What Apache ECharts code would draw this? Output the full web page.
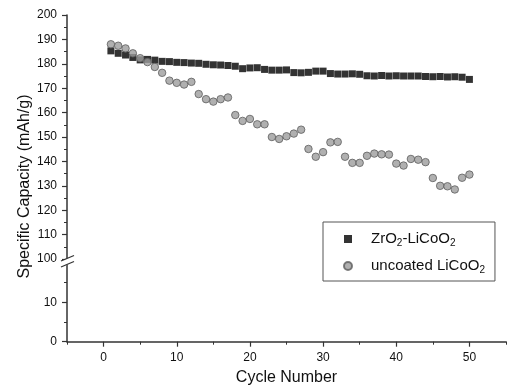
<!DOCTYPE html>
<html><head><meta charset="utf-8">
<script src="https://cdn.jsdelivr.net/npm/echarts@6/dist/echarts.min.js"></script>
<style>html,body{margin:0;padding:0;background:#fff}#c{width:509px;height:391px}</style>
</head><body><div id="c"></div>
<script>
const cycles = [1,2,3,4,5,6,7,8,9,10,11,12,13,14,15,16,17,18,19,20,21,22,23,24,25,26,27,28,29,30,31,32,33,34,35,36,37,38,39,40,41,42,43,44,45,46,47,48,49,50];
const zro2Capacity = [185.3,184.3,183.6,182.6,181.6,181.8,181.5,181.0,180.9,180.6,180.5,180.3,180.2,179.8,179.6,179.5,179.3,179.0,178.0,178.3,178.4,177.7,177.4,177.4,177.5,176.4,176.3,176.5,177.0,177.0,176.0,175.8,175.8,175.9,175.7,175.1,175.0,175.2,175.0,175.1,175.0,175.0,175.0,174.8,174.7,174.8,174.6,174.7,174.5,173.6];
const uncoatedCapacity = [188.0,187.4,186.3,184.3,182.3,180.7,178.7,176.3,173.1,172.2,171.5,172.6,167.6,165.5,164.5,165.5,166.2,159.0,156.6,157.4,155.2,155.2,150.0,149.2,150.3,151.4,153.0,145.1,141.9,143.8,147.8,148.0,141.9,139.4,139.4,142.3,143.2,142.9,142.8,139.1,138.3,141.0,140.7,139.7,133.2,130.0,129.8,128.5,133.3,134.6];
const xTickValues = [0,10,20,30,40,50];
const xMinorTickValues = [-5,5,15,25,35,45,55];
const seriesNames = ['ZrO2-LiCoO2','uncoated LiCoO2'];
const legendRich = {'ZrO2-LiCoO2':'{a|ZrO}{s|2}{a|-LiCoO}{s|2}','uncoated LiCoO2':'{a|uncoated LiCoO}{s|2}'};
const yAxisTitle = 'Specific Capacity (mAh/g)';
const xAxisTitle = 'Cycle Number';

const FONT = 'Liberation Sans, Arial, sans-serif';
const AX = '#333';
const chart = echarts.init(document.getElementById('c'), null, {renderer:'canvas'});
const lineStyle = {color:AX, width:1.5};
const labelStyle = {color:'#111', fontSize:12, fontFamily:FONT};

chart.setOption({
  animation:false,
  backgroundColor:'#fff',
  grid:[
    {left:67, right:3, top:15, height:244},
    {left:67, right:3, top:263, height:78.7}
  ],
  xAxis:[
    {gridIndex:0, type:'value', min:-5, max:55, show:false},
    {gridIndex:1, type:'value', min:-5, max:55, position:'bottom',
     axisLine:{show:true, onZero:false, lineStyle},
     axisTick:{show:true, customValues:xTickValues, length:5, lineStyle:{color:AX,width:1.2}},
     axisLabel:{customValues:xTickValues, margin:10, ...labelStyle},
     splitLine:{show:false},
     name:xAxisTitle, nameLocation:'middle', nameGap:28,
     nameTextStyle:{fontSize:16, color:'#111', fontFamily:FONT}},
    {gridIndex:1, type:'value', min:-5, max:55, position:'bottom',
     axisLine:{show:false, onZero:false},
     axisTick:{show:true, customValues:xMinorTickValues, length:3, lineStyle:{color:AX,width:1}},
     axisLabel:{show:false}, splitLine:{show:false}}
  ],
  yAxis:[
    {gridIndex:0, type:'value', min:100, max:200, interval:10, position:'left',
     axisLine:{show:true, onZero:false, lineStyle},
     axisTick:{show:true, length:5, lineStyle:{color:AX,width:1.2}},
     minorTick:{show:true, splitNumber:2, length:3, lineStyle:{color:AX,width:1}},
     axisLabel:{margin:10, ...labelStyle},
     splitLine:{show:false}},
    {gridIndex:1, type:'value', min:0, max:20, interval:10, position:'left',
     axisLine:{show:true, onZero:false, lineStyle},
     axisTick:{show:true, length:5, lineStyle:{color:AX,width:1.2}},
     minorTick:{show:true, splitNumber:2, length:3, lineStyle:{color:AX,width:1}},
     axisLabel:{margin:10, showMaxLabel:false, ...labelStyle},
     splitLine:{show:false}}
  ],
  legend:{
    orient:'vertical', left:323, top:222,
    padding:[7,10,6,20], itemGap:8, itemWidth:8, itemHeight:8,
    borderColor:'#555', borderWidth:1, backgroundColor:'#fff',
    data:[{name:seriesNames[0], icon:'path://M0,0H1V1H0Z'},{name:seriesNames[1], icon:'circle'}],
    formatter:n => legendRich[n],
    textStyle:{fontSize:15, color:'#111', fontFamily:FONT, padding:[0,0,0,14],
      rich:{a:{fontSize:15, fontFamily:FONT, color:'#111', lineHeight:18},
            s:{fontSize:10, fontFamily:FONT, color:'#111', lineHeight:18, verticalAlign:'bottom', padding:[9,0,0,0]}}}
  },
  graphic:[
    {type:'polygon', z:100, shape:{points:[[60,261.5],[75,255],[75,261.5],[60,268]]}, style:{fill:'#fff'}},
    {type:'line', z:101, shape:{x1:61,y1:261,x2:74,y2:255.5}, style:{stroke:AX, lineWidth:1.3}},
    {type:'line', z:101, shape:{x1:61,y1:267,x2:74,y2:261.5}, style:{stroke:AX, lineWidth:1.3}},
    {type:'text', z:101, x:24.5, y:186.5, rotation:Math.PI/2,
     style:{text:yAxisTitle, fontSize:16, fontFamily:FONT, fill:'#111', align:'center', verticalAlign:'middle'}}
  ],
  series:[
    {name:seriesNames[0], type:'scatter', xAxisIndex:0, yAxisIndex:0, symbol:'rect', symbolSize:7,
     itemStyle:{color:'#000'}, data:cycles.map((c,i)=>[c, zro2Capacity[i]])},
    {name:seriesNames[1], type:'scatter', xAxisIndex:0, yAxisIndex:0, symbol:'circle', symbolSize:7.5,
     itemStyle:{color:'#9c9c9c', borderColor:'#5e5e5e', borderWidth:1}, data:cycles.map((c,i)=>[c, uncoatedCapacity[i]])}
  ]
});
</script></body></html>
